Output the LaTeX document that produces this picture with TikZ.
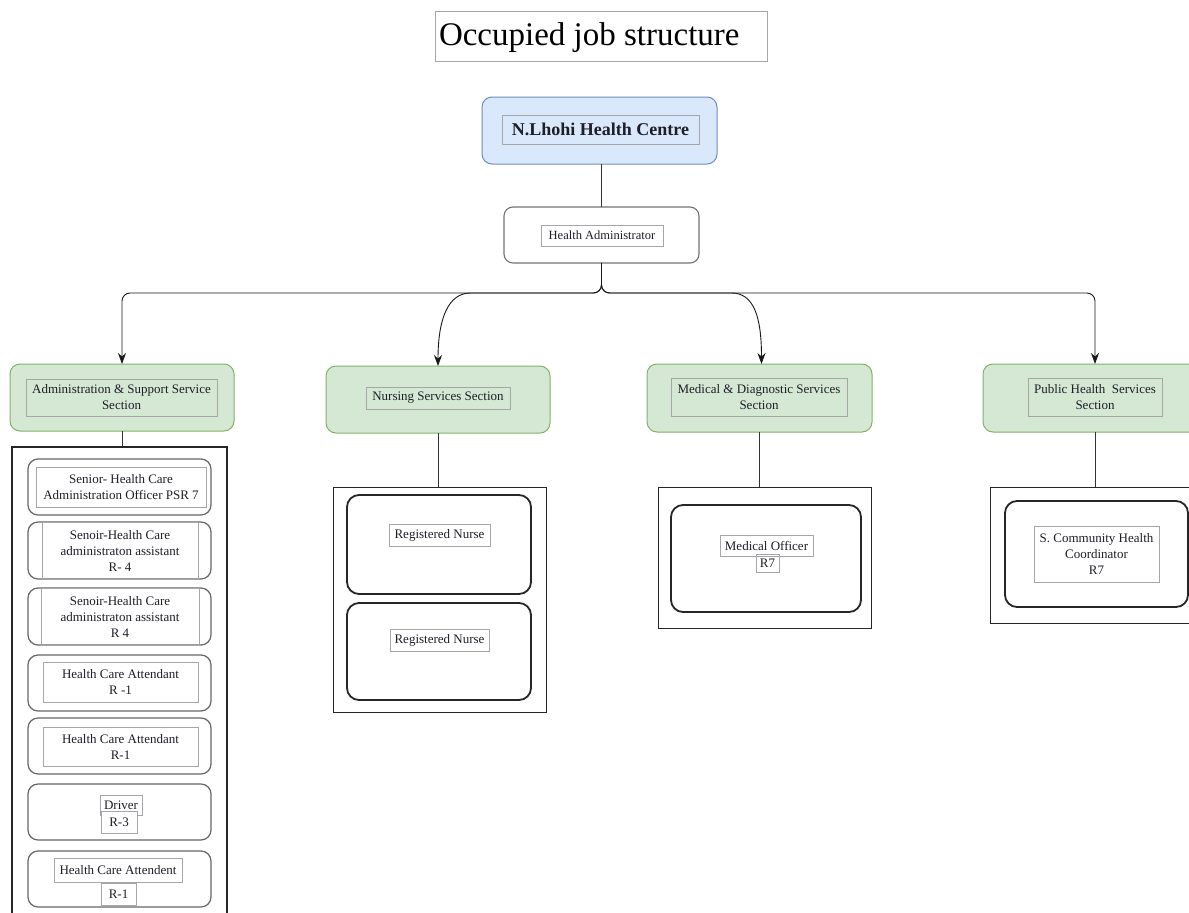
\documentclass[tikz,border=0pt]{standalone}
\usepackage{fontspec}
\newfontfamily\bodyfont{Liberation Serif}
\usetikzlibrary{arrows.meta,calc}
\definecolor{blfill}{HTML}{DAE8FC}
\definecolor{blline}{HTML}{6C8EBF}
\definecolor{grfill}{HTML}{D5E8D4}
\definecolor{grline}{HTML}{82B366}
\definecolor{txt}{HTML}{1E1E28}
\begin{document}
\begin{tikzpicture}[x=1pt,y=-1pt,
  every node/.style={inner sep=0pt, outer sep=0pt, text=txt, font=\bodyfont\fontsize{13}{16}\selectfont, align=center},
  tbox/.style={draw=black!35, line width=0.8pt},
  titlebox/.style={draw=black!35, line width=0.9pt, minimum width=332, minimum height=50},
  titletext/.style={anchor=west, font=\bodyfont\fontsize{33}{36}\selectfont, text=black},
  topbox/.style={draw=blline, fill=blfill, line width=1pt, rounded corners=10},
  adminbox/.style={draw=black!55, line width=1.1pt, rounded corners=9},
  sect/.style={draw=grline, fill=grfill, line width=1pt, rounded corners=10},
  cont/.style={draw=black!85, line width=0.9pt},
  item/.style={draw=black!60, line width=1.2pt, rounded corners=10},
  bitem/.style={draw=black!85, line width=1.8pt, rounded corners=12},
  link/.style={draw=black!80, line width=0.9pt},
  arr/.style={draw=black!90, line width=0.9pt, -{Stealth[length=11pt,width=8pt]}}
]
\fill[white] (0,0) rectangle (1189,913);
\useasboundingbox (0,0) rectangle (1189,913);
\clip (0,0) rectangle (1189,913);

% title
\node[titlebox] (title) at (601,36) {};
\node[titletext] (titlet) at ($(title.west)+(4,2)$) {Occupied job structure};

% top
\node[topbox, minimum width=235, minimum height=67] (top) at (599.5,130.5) {};
\node[tbox, minimum width=197, minimum height=29, font=\bodyfont\fontsize{18}{20}\bfseries] (topt) at (600.5,129.5) {N.Lhohi Health Centre};

% health administrator
\node[adminbox, minimum width=195, minimum height=56] (ha) at (601.5,235) {};
\node[tbox, minimum width=122, minimum height=21, font=\bodyfont\fontsize{12.5}{15}\selectfont] (hat) at (602,235.5) {Health Administrator};
\draw[link] (top.south -| ha.north) -- (ha.north);

% sections
\node[sect, minimum width=224, minimum height=67] (s1) at (122,397.5) {};
\node[tbox, minimum width=191, minimum height=37] (s1t) at (121.5,397.5) {Administration \& Support Service\\Section};
\node[sect, minimum width=224, minimum height=67] (s2) at (438,399.5) {};
\node[tbox, minimum width=144, minimum height=22] (s2t) at (438,398) {Nursing Services Section};
\node[sect, minimum width=225, minimum height=68] (s3) at (759.5,398) {};
\node[tbox, minimum width=176, minimum height=38] (s3t) at (759,397) {Medical \& Diagnostic Services\\Section};
\node[sect, minimum width=224, minimum height=68] (s4) at (1095,398) {};
\node[tbox, minimum width=134, minimum height=38] (s4t) at (1095,397) {Public Health\ \ Services\\Section};

% connectors from health administrator
\draw[arr, rounded corners=8] (ha.south) -- ++(0,30) -| (s1.north);
\draw[arr, rounded corners=8] (ha.south) -- ++(0,30) -| (s4.north);
\draw[arr, rounded corners=8] (ha.south) -- ++(0,30) -- ++(-123,0) .. controls ++(-30,0) and ($(s2.north)+(0,-48)$) .. (s2.north);
\draw[arr, rounded corners=8] (ha.south) -- ++(0,30) -- ++(122,0) .. controls ++(30,0) and ($(s3.north)+(2,-48)$) .. ($(s3.north)+(2,0)$);

% containers
\node[cont, line width=2.6pt, minimum width=215, minimum height=483] (c1) at (119.5,688.5) {};
\node[cont, minimum width=213, minimum height=225] (c2) at (439.5,599.5) {};
\node[cont, minimum width=213, minimum height=141] (c3) at (764.5,557.5) {};
\node[cont, minimum width=220, minimum height=136] (c4) at (1100,555) {};
\draw[link] (s1.south) -- (s1.south |- c1.north);
\draw[link] (s2.south) -- (s2.south |- c2.north);
\draw[link] (s3.south) -- (s3.south |- c3.north);
\draw[link] (s4.south) -- (s4.south |- c4.north);

% container 1 items
\node[item, minimum width=183, minimum height=56] (a1) at (119.5,487) {};
\node[tbox, minimum width=170, minimum height=40] (a1t) at (121,487) {Senior- Health Care\\Administration Officer PSR 7};
\node[item, minimum width=183, minimum height=57] (a2) at (119.5,550.5) {};
\node[tbox, minimum width=156, minimum height=57] (a2t) at (120,550.5) {Senoir-Health Care\\administraton assistant\\R- 4};
\node[item, minimum width=183, minimum height=57] (a3) at (119.5,616.5) {};
\node[tbox, minimum width=158, minimum height=57] (a3t) at (120,616.5) {Senoir-Health Care\\administraton assistant\\R 4};
\node[item, minimum width=183, minimum height=56] (a4) at (119.5,683) {};
\node[tbox, minimum width=155, minimum height=40] (a4t) at (120.5,682) {Health Care Attendant\\R -1};
\node[item, minimum width=183, minimum height=56] (a5) at (119.5,746) {};
\node[tbox, minimum width=155, minimum height=39] (a5t) at (120.5,746.5) {Health Care Attendant\\R-1};
\node[item, minimum width=183, minimum height=56] (a6) at (119.5,812) {};
\node[tbox, minimum width=42, minimum height=20] (a6t) at (121,805) {Driver};
\node[tbox, fill=white, minimum width=36, minimum height=22] (a6r) at (119,822) {R-3};
\node[item, minimum width=183, minimum height=56] (a7) at (119.5,879) {};
\node[tbox, minimum width=128, minimum height=24] (a7t) at (118,870) {Health Care Attendent};
\node[tbox, minimum width=35, minimum height=22] (a7r) at (118.5,894) {R-1};

% container 2 items
\node[bitem, minimum width=184, minimum height=99] (n1) at (439,544.5) {};
\node[tbox, minimum width=101, minimum height=22] (n1t) at (439.5,535) {Registered Nurse};
\node[bitem, minimum width=184, minimum height=97] (n2) at (439,651.5) {};
\node[tbox, minimum width=99, minimum height=22] (n2t) at (439.5,640) {Registered Nurse};

% container 3 item
\node[bitem, minimum width=190, minimum height=107] (m1) at (766,558.5) {};
\node[tbox, minimum width=93, minimum height=21] (m1t) at (766.5,545.5) {Medical Officer};
\node[tbox, minimum width=23, minimum height=18] (m1r) at (767.5,563) {R7};

% container 4 item
\node[bitem, minimum width=183, minimum height=106] (p1) at (1096.5,554) {};
\node[tbox, minimum width=125, minimum height=56] (p1t) at (1096.5,554) {S. Community Health\\Coordinator\\R7};
\end{tikzpicture}
\end{document}
